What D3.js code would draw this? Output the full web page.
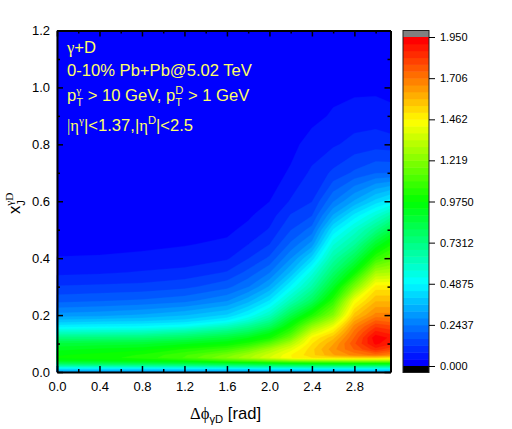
<!DOCTYPE html>
<html>
<head>
<meta charset="utf-8">
<style>
  body { margin: 0; background: #fff; }
  text { font-family: "Liberation Sans", Arial, sans-serif; white-space: pre; }
</style>
<script src="https://cdn.jsdelivr.net/npm/d3@7"></script>
</head>
<body>
<svg width="512" height="429"></svg>
<script>
"use strict";
const phiValues = [0, 0.4, 0.8, 1.2, 1.6, 1.8, 2.0, 2.2, 2.4, 2.6, 2.8, 3.0, 3.14];
const xjValues = [0, 0.01, 0.02, 0.03, 0.04, 0.05, 0.06, 0.08, 0.1, 0.12, 0.14, 0.16, 0.18, 0.2,
    0.25, 0.3, 0.35, 0.4, 0.45, 0.5, 0.55, 0.6, 0.7, 0.8, 0.9, 1.0, 1.2];

// yield, one array per phi column, same order as xjValues
const yieldPhi00 = [0.30, 0.42, 0.62, 0.80, 0.93, 0.98, 0.97, 0.92, 0.86, 0.74, 0.60, 0.47, 0.38, 0.30, 0.19, 0.125, 0.07, 0.042, 0.03, 0.025, 0.02, 0.015, 0.01, 0.01, 0.01, 0.005, 0.005];
const yieldPhi04 = [0.30, 0.42, 0.63, 0.82, 0.95, 1.00, 0.99, 0.94, 0.87, 0.75, 0.61, 0.48, 0.39, 0.31, 0.20, 0.13, 0.075, 0.043, 0.032, 0.025, 0.02, 0.015, 0.01, 0.01, 0.01, 0.005, 0.005];
const yieldPhi08 = [0.30, 0.42, 0.64, 0.83, 0.97, 1.03, 1.02, 0.96, 0.88, 0.76, 0.62, 0.49, 0.40, 0.33, 0.21, 0.135, 0.085, 0.047, 0.034, 0.026, 0.02, 0.015, 0.01, 0.01, 0.01, 0.005, 0.005];
const yieldPhi12 = [0.30, 0.43, 0.65, 0.85, 1.00, 1.10, 1.09, 1.02, 0.92, 0.80, 0.67, 0.52, 0.42, 0.36, 0.23, 0.15, 0.095, 0.055, 0.038, 0.028, 0.02, 0.015, 0.01, 0.01, 0.01, 0.005, 0.005];
const yieldPhi16 = [0.30, 0.44, 0.67, 0.88, 1.08, 1.22, 1.19, 1.08, 0.97, 0.87, 0.75, 0.62, 0.49, 0.41, 0.28, 0.19, 0.125, 0.075, 0.047, 0.033, 0.025, 0.018, 0.012, 0.01, 0.01, 0.005, 0.005];
const yieldPhi18 = [0.30, 0.44, 0.68, 0.90, 1.12, 1.29, 1.27, 1.16, 1.03, 0.93, 0.81, 0.70, 0.58, 0.49, 0.35, 0.24, 0.175, 0.12, 0.08, 0.05, 0.035, 0.025, 0.016, 0.012, 0.01, 0.008, 0.005];
const yieldPhi20 = [0.31, 0.45, 0.69, 0.92, 1.17, 1.38, 1.36, 1.28, 1.14, 1.00, 0.92, 0.80, 0.70, 0.61, 0.45, 0.33, 0.24, 0.17, 0.12, 0.085, 0.06, 0.04, 0.025, 0.018, 0.012, 0.01, 0.005];
const yieldPhi22 = [0.31, 0.45, 0.70, 0.94, 1.22, 1.46, 1.46, 1.40, 1.30, 1.18, 1.08, 1.00, 0.92, 0.83, 0.63, 0.49, 0.37, 0.28, 0.21, 0.16, 0.125, 0.085, 0.045, 0.03, 0.02, 0.012, 0.005];
const yieldPhi24 = [0.31, 0.46, 0.71, 0.95, 1.24, 1.50, 1.53, 1.53, 1.50, 1.46, 1.36, 1.25, 1.13, 1.02, 0.80, 0.66, 0.55, 0.42, 0.30, 0.22, 0.16, 0.12, 0.09, 0.055, 0.03, 0.015, 0.01];
const yieldPhi26 = [0.31, 0.46, 0.71, 0.96, 1.25, 1.51, 1.62, 1.65, 1.62, 1.57, 1.50, 1.42, 1.32, 1.22, 1.05, 0.90, 0.77, 0.66, 0.56, 0.45, 0.33, 0.24, 0.13, 0.075, 0.045, 0.03, 0.01];
const yieldPhi28 = [0.31, 0.46, 0.71, 0.96, 1.26, 1.52, 1.68, 1.75, 1.78, 1.75, 1.72, 1.68, 1.62, 1.56, 1.43, 1.20, 0.98, 0.82, 0.68, 0.58, 0.46, 0.33, 0.17, 0.095, 0.06, 0.03, 0.015];
const yieldPhi30 = [0.31, 0.46, 0.71, 0.96, 1.26, 1.52, 1.72, 1.85, 1.92, 1.94, 1.88, 1.82, 1.75, 1.68, 1.58, 1.48, 1.28, 1.06, 0.89, 0.72, 0.57, 0.42, 0.20, 0.105, 0.06, 0.032, 0.015];
const yieldPhi314 = [0.31, 0.46, 0.71, 0.96, 1.26, 1.50, 1.68, 1.80, 1.88, 1.90, 1.85, 1.80, 1.73, 1.68, 1.58, 1.48, 1.30, 1.14, 1.00, 0.84, 0.66, 0.47, 0.20, 0.10, 0.05, 0.03, 0.015];
const yieldColumns = [yieldPhi00, yieldPhi04, yieldPhi08, yieldPhi12, yieldPhi16, yieldPhi18, yieldPhi20,
    yieldPhi22, yieldPhi24, yieldPhi26, yieldPhi28, yieldPhi30, yieldPhi314];

const xMajorTicks = [0, 0.4, 0.8, 1.2, 1.6, 2.0, 2.4, 2.8];
const xMinorTicks = [0.2, 0.6, 1.0, 1.4, 1.8, 2.2, 2.6, 3.0];
const yMajorTicks = [0, 0.2, 0.4, 0.6, 0.8, 1.0, 1.2];
const yMinorTicks = [0.1, 0.3, 0.5, 0.7, 0.9, 1.1];
const barTicks = [0, 0.2437, 0.4875, 0.7312, 0.975, 1.219, 1.462, 1.706, 1.95];
const barTickLabels = ["0.000", "0.2437", "0.4875", "0.7312", "0.9750", "1.219", "1.462", "1.706", "1.950"];
const levelCount = 48;
const zMax = 1.95;

const svg = d3.select("svg");
const xScale = d3.scaleLinear().domain([0, 3.14]).range([57, 390.5]);
const yScale = d3.scaleLinear().domain([0, 1.2]).range([372, 30.5]);
const barScale = d3.scaleLinear().domain([0, zMax]).range([366, 37]);
const rainbow = d3.scaleLinear()
    .domain([0, 0.4875, 0.975, 1.4625, 1.95])
    .range(["#0000ff", "#00ffff", "#00ff00", "#ffff00", "#ff0000"]);

const levels = d3.range(levelCount).map(i => i * zMax / levelCount);
const bandColor = i => rainbow(i / (levelCount - 1) * zMax);

// the contour generator works on grid cells, so map the grid index back to data, then to pixels
const phiForIndex = d3.scaleLinear().domain(phiValues.map((d, i) => i + 0.5)).range(phiValues).clamp(true);
const xjForIndex = d3.scaleLinear().domain(xjValues.map((d, i) => i + 0.5)).range(xjValues).clamp(true);

const flat = [];
xjValues.forEach((xj, j) => phiValues.forEach((phi, i) => flat.push(yieldColumns[i][j])));

const contours = d3.contours()
    .size([phiValues.length, xjValues.length])
    .thresholds(levels)(flat);

const path = d3.geoPath(d3.geoTransform({
    point(x, y) {
        this.stream.point(xScale(phiForIndex(x)), yScale(xjForIndex(y)));
    }
}));

svg.append("rect")
    .attr("x", xScale(0)).attr("y", yScale(1.2))
    .attr("width", xScale(3.14) - xScale(0)).attr("height", yScale(0) - yScale(1.2))
    .attr("fill", bandColor(0));

svg.append("g").selectAll("path")
    .data(contours)
    .join("path")
    .attr("d", path)
    .attr("fill", (d, i) => bandColor(i))
    .attr("stroke", (d, i) => bandColor(i))
    .attr("stroke-width", 0.3);

// frame and ticks, all four sides point inward
function drawAxis(axis, transform, major) {
    const g = svg.append("g").attr("transform", transform).call(axis);
    g.select(".domain").attr("stroke", "#000").attr("stroke-width", major ? 2 : 0);
    g.selectAll(".tick line").attr("stroke", "#000").attr("stroke-width", 1.5);
    g.selectAll("text").attr("font-size", 13).attr("fill", "#000")
        .style("font-family", '"Liberation Sans", Arial, sans-serif');
    return g;
}
const fmt = d3.format(".1f");
drawAxis(d3.axisBottom(xScale).tickValues(xMajorTicks).tickFormat(fmt).tickSizeInner(-6).tickSizeOuter(0).tickPadding(7), "translate(0,372)", true)
    .selectAll(".tick text").attr("dy", "0.9em");
drawAxis(d3.axisBottom(xScale).tickValues(xMinorTicks).tickFormat("").tickSizeInner(-3).tickSizeOuter(0), "translate(0,372)", false);
drawAxis(d3.axisTop(xScale).tickValues(xMajorTicks).tickFormat("").tickSizeInner(-6).tickSizeOuter(0), "translate(0,30.5)", true);
drawAxis(d3.axisTop(xScale).tickValues(xMinorTicks).tickFormat("").tickSizeInner(-3).tickSizeOuter(0), "translate(0,30.5)", false);
drawAxis(d3.axisLeft(yScale).tickValues(yMajorTicks).tickFormat(fmt).tickSizeInner(-6).tickSizeOuter(0).tickPadding(7), "translate(57,0)", true);
drawAxis(d3.axisLeft(yScale).tickValues(yMinorTicks).tickFormat("").tickSizeInner(-3).tickSizeOuter(0), "translate(57,0)", false);
drawAxis(d3.axisRight(yScale).tickValues(yMajorTicks).tickFormat("").tickSizeInner(-6).tickSizeOuter(0), "translate(390.5,0)", true);
drawAxis(d3.axisRight(yScale).tickValues(yMinorTicks).tickFormat("").tickSizeInner(-3).tickSizeOuter(0), "translate(390.5,0)", false);

// colour bar
const bar = svg.append("g");
bar.selectAll("rect")
    .data(levels)
    .join("rect")
    .attr("x", 403).attr("width", 26)
    .attr("y", d => barScale(d + zMax / levelCount))
    .attr("height", d => barScale(d) - barScale(d + zMax / levelCount) + 0.5)
    .attr("fill", (d, i) => bandColor(i));
bar.append("rect").attr("x", 403).attr("y", 30.5).attr("width", 26).attr("height", 6.5).attr("fill", "#808080");
bar.append("rect").attr("x", 403).attr("y", 366).attr("width", 26).attr("height", 6.5).attr("fill", "#000");
bar.append("rect").attr("x", 403).attr("y", 30.5).attr("width", 26).attr("height", 342)
    .attr("fill", "none").attr("stroke", "#222").attr("stroke-width", 1);
const barAxis = svg.append("g").attr("transform", "translate(429,0)")
    .call(d3.axisRight(barScale).tickValues(barTicks).tickFormat((d, i) => barTickLabels[i]).tickSizeInner(6).tickSizeOuter(0).tickPadding(5));
barAxis.select(".domain").remove();
barAxis.selectAll("text").attr("font-size", 11).attr("fill", "#000")
    .style("font-family", '"Liberation Sans", Arial, sans-serif');

// text made of pieces: normal, serif greek, and stacked sup/sub
function richText(parent, x, y, size, color, pieces) {
    let cursor = x;
    pieces.forEach(p => {
        const put = (str, dy, scale, serif) => {
            const t = parent.append("text")
                .attr("x", cursor).attr("y", y + dy)
                .attr("font-size", size * scale)
                .attr("fill", color)
                .style("font-family", serif ? '"Liberation Serif", serif' : '"Liberation Sans", Arial, sans-serif')
                .text(str);
            return t.node().getComputedTextLength();
        };
        let w = 0;
        if (p.t) w = Math.max(w, put(p.t, 0, 1, p.serif));
        if (p.sup || p.sub) {
            const a = p.sup ? put(p.sup, -size * 0.42, 0.68, p.supSerif) : 0;
            const b = p.sub ? put(p.sub, size * (p.subDrop || 0.3), 0.68, false) : 0;
            w = Math.max(a, b);
        }
        cursor += w;
    });
}

const note = svg.append("g");
const noteColor = "#ffff66";
richText(note, 67, 53, 16.6, noteColor, [{t: "γ", serif: true}, {t: "+D"}]);
richText(note, 67, 76, 16.6, noteColor, [{t: "0-10% Pb+Pb@5.02 TeV"}]);
richText(note, 67, 101, 16.6, noteColor, [{t: "p"}, {sup: "γ", supSerif: true, sub: "T"}, {t: " > 10 GeV, p"}, {sup: "D", sub: "T"}, {t: " > 1 GeV"}]);
richText(note, 67, 131, 16.6, noteColor, [{t: "|η", serif: true}, {sup: "γ", supSerif: true}, {t: "|<1.37,|"}, {t: "η", serif: true}, {sup: "D"}, {t: "|<2.5"}]);

richText(svg, 190, 419, 16.6, "#000", [{t: "Δϕ", serif: true}, {sub: "γD", subDrop: 0.25}, {t: " [rad]"}]);

const yTitle = svg.append("g").attr("transform", "translate(20,214) rotate(-90)");
richText(yTitle, 0, 0, 16.6, "#000", [{t: "x"}, {sup: "γD", supSerif: true, sub: "J"}]);
</script>
</body>
</html>
